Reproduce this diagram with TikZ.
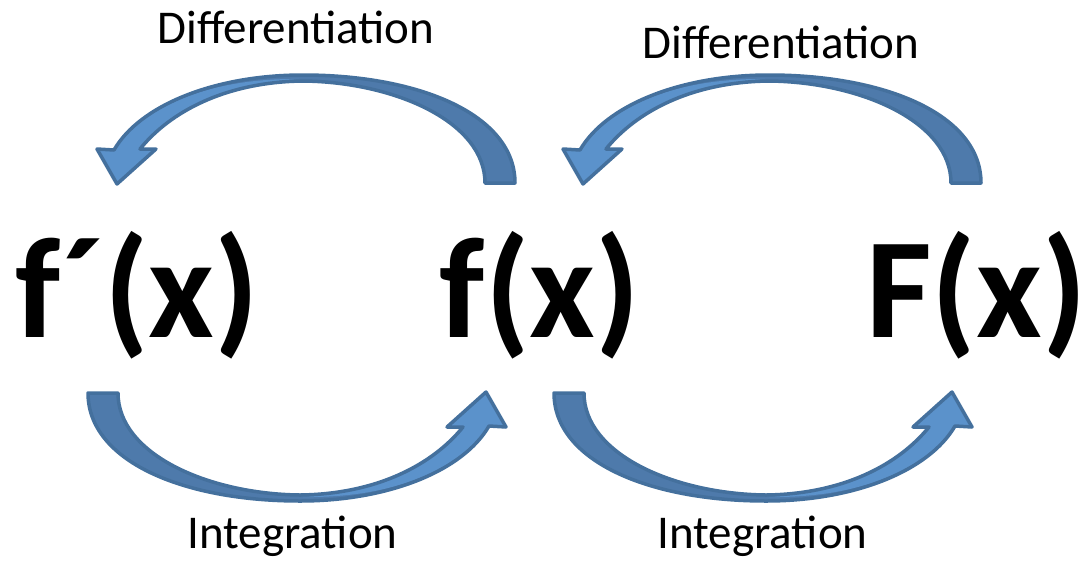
\documentclass[tikz,border=0pt]{standalone}
\usepackage{fontspec}
\setmainfont{Carlito}
\usetikzlibrary{positioning}

\definecolor{arrowdark}{HTML}{4E7AAB}
\definecolor{arrowlight}{HTML}{5B92CB}
\definecolor{arrowline}{HTML}{44709D}

% curved block arrow, drawn once (top left), origin at its turning point
\newcommand\bendshape{(485,183) -- (515,183)
  .. controls (515,115) and (420,75) .. (303,75)
  .. controls (215,75) and (140,105) .. (114,150)
  -- (97,149) -- (117,184) -- (156,149) -- (140,149)
  .. controls (170,112) and (225,82) .. (303,81)
  .. controls (395,82) and (485,122) .. (485,183) -- cycle}
\newcommand\bendfront{(300,79)
  .. controls (225,83) and (170,112) .. (140,149)
  -- (156,149) -- (117,184) -- (97,149) -- (114,150)
  .. controls (150,100) and (220,78) .. (300,79) -- cycle}

\begin{document}
\begin{tikzpicture}[
  x=0.5pt, y=-0.5pt,
  func/.style={anchor=base,inner sep=0pt,font=\fontsize{71.5pt}{72pt}\selectfont\bfseries},
  oplabel/.style={anchor=base,inner sep=0pt,font=\fontsize{23.5pt}{24pt}\selectfont},
  bend arrow/.pic={
    \begin{scope}[shift={(-301.5,-288)}]
      \fill[arrowdark] \bendshape;
      \fill[arrowlight] \bendfront;
      \draw[arrowline,line width=1.75pt,line join=round] \bendshape;
    \end{scope}
  }
]
  \useasboundingbox (0,0) rectangle (1088,569);

  % ---------- functions ----------
  \node[func] (deriv) at (137.5,337) {f´(x)};
  \node[func] (func)  at (540,337)   {f(x)};
  \node[func] (anti)  at (976.5,337) {F(x)};

  % ---------- arrows ----------
  \pic at (301.5,288) {bend arrow};
  \pic at (767.5,288) {bend arrow};
  \pic[rotate=180] at (301.5,288) {bend arrow};
  \pic[rotate=180] at (767.5,288) {bend arrow};

  % ---------- labels ----------
  \node[oplabel] (diffl) at (296,43)    {Differentiation};
  \node[oplabel] (diffr) at (781,58)    {Differentiation};
  \node[oplabel] (intl)  at (292.5,548) {Integration};
  \node[oplabel] (intr)  at (762.5,548) {Integration};
\end{tikzpicture}
\end{document}
